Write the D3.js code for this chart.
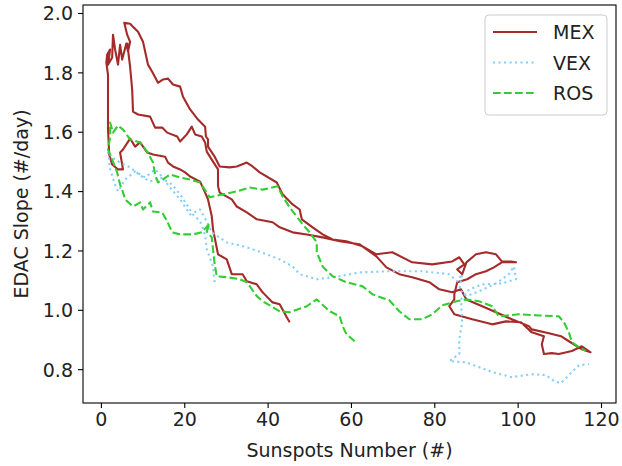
<!DOCTYPE html>
<html>
<head>
<meta charset="utf-8">
<script src="https://cdn.jsdelivr.net/npm/d3@7"></script>
<style>
  body { margin: 0; background: #fff; }
  svg { font-family: "DejaVu Sans", sans-serif; }
</style>
</head>
<body>
<svg id="svg_edac" width="622" height="466"></svg>
<script>
// EDAC slope vs sunspot number, one trajectory per mission

// MEX: sunspots, slope
const mexSunspots = [45.3, 44.6, 42.9, 41.2, 39.3, 38.8, 37.4, 35.0, 34.0, 31.4, 30.2, 28.1, 26.9, 26.6, 25.7, 25.0, 23.8, 21.4, 20.2, 19.0,
  17.3, 16.1, 15.4, 12.5, 11.1, 9.4, 8.2, 7.0, 5.3, 4.6, 5.3, 4.1, 2.7, 2.0, 1.7, 1.7, 1.7, 1.3, 1.5, 2.2,
  1.7, 2.7, 2.9, 3.4, 4.1, 4.6, 5.1, 6.1, 6.5, 7.0, 6.3, 5.6, 7.0, 7.7, 8.9, 10.1, 11.3, 12.3, 13.7, 14.9,
  16.1, 17.3, 19.0, 19.7, 21.4, 23.3, 25.0, 25.2, 25.7, 25.7, 27.3, 28.5, 30.9, 32.6, 35.0, 36.4, 38.1, 42.2, 43.6, 46.0,
  47.7, 48.2, 50.8, 53.2, 55.6, 58.9, 62.8, 66.1, 69.9, 74.7, 79.5, 84.3, 86.0, 87.2, 85.5, 86.7, 87.7, 90.0, 92.4, 94.8,
  96.2, 98.4, 99.6, 96.2, 94.3, 92.4, 90.0, 87.9, 85.5, 84.8, 84.8, 83.6, 84.8, 89.1, 93.9, 97.2, 100.8, 103.4, 106.3, 105.8,
  106.3, 108.2, 109.9, 113.0, 115.4, 117.5, 115.4, 112.3, 110.4, 107.5, 103.4, 102.7, 98.6, 94.8, 91.5, 87.7, 86.4, 84.3, 81.2, 78.8,
  74.7, 71.6, 68.5, 66.1, 62.0, 57.3, 53.2, 49.4, 46.0, 42.9, 41.2, 37.4, 35.0, 32.6, 31.4, 28.5, 28.1, 28.1, 26.6, 25.4,
  25.0, 24.2, 22.6, 21.8, 20.6, 19.0, 18.3, 15.9, 14.7, 13.0, 11.8, 8.9, 7.7, 7.5, 7.0, 6.3];
const mexSlope = [0.958, 0.975, 1.019, 1.025, 1.052, 1.059, 1.086, 1.096, 1.120, 1.120, 1.170, 1.187, 1.271, 1.315, 1.372, 1.395, 1.432, 1.449, 1.463, 1.473,
  1.483, 1.496, 1.516, 1.523, 1.530, 1.564, 1.550, 1.577, 1.540, 1.530, 1.473, 1.473, 1.490, 1.523, 1.607, 1.708, 1.792, 1.833, 1.860, 1.877,
  1.826, 1.850, 1.927, 1.877, 1.826, 1.893, 1.843, 1.897, 1.870, 1.903, 1.927, 1.967, 1.964, 1.954, 1.937, 1.903, 1.826, 1.802, 1.765, 1.776,
  1.779, 1.759, 1.752, 1.718, 1.675, 1.641, 1.617, 1.584, 1.574, 1.550, 1.516, 1.483, 1.480, 1.483, 1.496, 1.483, 1.463, 1.429, 1.389, 1.355,
  1.338, 1.305, 1.278, 1.254, 1.237, 1.231, 1.214, 1.187, 1.194, 1.160, 1.153, 1.163, 1.177, 1.153, 1.136, 1.120, 1.160, 1.187, 1.194, 1.187,
  1.163, 1.163, 1.160, 1.160, 1.143, 1.130, 1.120, 1.103, 1.093, 1.052, 1.035, 1.012, 0.985, 0.968, 0.951, 0.961, 0.958, 0.924, 0.911, 0.884,
  0.851, 0.854, 0.851, 0.861, 0.877, 0.857, 0.867, 0.894, 0.911, 0.921, 0.934, 0.945, 0.968, 0.992, 1.012, 1.035, 1.069, 1.059, 1.069, 1.093,
  1.110, 1.120, 1.143, 1.180, 1.221, 1.231, 1.244, 1.254, 1.261, 1.278, 1.295, 1.305, 1.328, 1.348, 1.372, 1.395, 1.416, 1.473, 1.506, 1.533,
  1.564, 1.584, 1.591, 1.617, 1.591, 1.567, 1.584, 1.597, 1.614, 1.614, 1.651, 1.658, 1.668, 1.742, 1.819, 1.900];

// VEX
const vexSunspots = [27.3, 26.9, 25.4, 25.0, 23.8, 22.1, 20.6, 19.0, 17.1, 14.2, 11.8, 9.4, 7.0, 4.6, 2.7, 1.7, 2.2, 3.4, 4.1, 5.8,
  8.2, 10.6, 13.0, 14.2, 16.6, 19.0, 21.4, 23.8, 25.4, 26.6, 30.2, 35.0, 39.8, 42.9, 46.0, 47.7, 51.8, 57.3, 62.0, 69.2,
  77.1, 83.6, 85.5, 86.7, 86.0, 87.7, 90.7, 94.8, 97.9, 99.1, 99.6, 96.2, 91.5, 88.4, 86.4, 86.7, 86.0, 86.0, 83.6, 87.7,
  90.7, 93.9, 98.6, 103.4, 106.8, 108.7, 110.4, 113.0, 114.7, 117.1];
const vexSlope = [1.093, 1.146, 1.204, 1.254, 1.298, 1.321, 1.355, 1.389, 1.422, 1.446, 1.432, 1.453, 1.480, 1.496, 1.513, 1.533, 1.473, 1.422, 1.399, 1.439,
  1.466, 1.446, 1.473, 1.456, 1.412, 1.372, 1.321, 1.338, 1.298, 1.261, 1.227, 1.211, 1.187, 1.170, 1.146, 1.120, 1.103, 1.113, 1.126, 1.130,
  1.130, 1.120, 1.096, 1.120, 1.069, 1.046, 1.062, 1.089, 1.120, 1.146, 1.103, 1.089, 1.086, 1.069, 1.035, 0.958, 0.901, 0.851, 0.827, 0.823,
  0.807, 0.790, 0.773, 0.783, 0.780, 0.760, 0.753, 0.790, 0.813, 0.817];

// ROS
const rosSunspots = [60.9, 58.9, 58.0, 57.3, 54.9, 51.8, 49.4, 45.3, 42.9, 38.8, 37.4, 35.0, 33.3, 30.2, 27.8, 27.3, 26.9, 26.6, 25.4, 26.1,
  24.2, 22.1, 19.0, 17.1, 15.9, 14.7, 12.5, 11.8, 10.1, 9.4, 7.7, 5.8, 5.1, 4.6, 3.9, 2.7, 1.7, 2.2, 2.2, 2.9,
  4.1, 5.3, 7.0, 9.4, 11.1, 12.5, 13.0, 13.7, 16.6, 19.0, 21.4, 23.8, 25.4, 26.1, 29.3, 32.6, 35.7, 38.8, 42.4, 43.6,
  45.3, 48.4, 50.1, 51.8, 51.8, 53.2, 55.6, 58.9, 62.8, 65.2, 69.2, 71.6, 74.0, 77.1, 79.5, 81.9, 85.3, 87.7, 90.7, 93.9,
  95.5, 100.3, 105.1, 109.9, 111.1, 112.3, 113.0, 114.7, 116.4];
const rosSlope = [0.894, 0.918, 0.945, 0.978, 0.995, 1.035, 1.012, 0.992, 0.995, 1.029, 1.046, 1.093, 1.103, 1.110, 1.113, 1.153, 1.204, 1.244, 1.264, 1.291,
  1.261, 1.254, 1.254, 1.261, 1.298, 1.328, 1.331, 1.362, 1.338, 1.362, 1.348, 1.372, 1.405, 1.422, 1.463, 1.506, 1.540, 1.580, 1.631, 1.597,
  1.621, 1.607, 1.574, 1.564, 1.533, 1.496, 1.456, 1.429, 1.456, 1.446, 1.439, 1.429, 1.395, 1.379, 1.389, 1.399, 1.412, 1.405, 1.416, 1.382,
  1.345, 1.288, 1.261, 1.227, 1.194, 1.146, 1.113, 1.093, 1.079, 1.052, 1.032, 0.995, 0.968, 0.968, 0.985, 1.015, 1.029, 1.035, 1.029, 1.012,
  0.978, 0.985, 0.981, 0.978, 0.958, 0.924, 0.891, 0.874, 0.861];

const seriesNames = ['MEX', 'VEX', 'ROS'];
const xTicks = [0, 20, 40, 60, 80, 100, 120];
const yTicks = [0.8, 1.0, 1.2, 1.4, 1.6, 1.8, 2.0];

const svg = d3.select('#svg_edac');
const plotLeft = 83, plotRight = 616, plotTop = 5, plotBottom = 403;

const xScale = d3.scaleLinear().domain([-4.3, 123.6]).range([plotLeft, plotRight]);
const yScale = d3.scaleLinear().domain([0.686, 2.027]).range([plotBottom, plotTop]);

const series = [
  { name: 'MEX', x: mexSunspots, y: mexSlope, color: '#a52a2a', dash: null },
  { name: 'VEX', x: vexSunspots, y: vexSlope, color: '#87cefa', dash: '2.1,3.4' },
  { name: 'ROS', x: rosSunspots, y: rosSlope, color: '#32cd32', dash: '7.7,3.3' }
];

const line = d3.line()
  .x(d => xScale(d[0]))
  .y(d => yScale(d[1]));

series.forEach(s => {
  const pts = s.x.map((v, i) => [v, s.y[i]]);
  svg.append('path')
    .datum(pts)
    .attr('d', line)
    .attr('fill', 'none')
    .attr('stroke', s.color)
    .attr('stroke-width', 2.1)
    .attr('stroke-linejoin', 'round')
    .attr('stroke-dasharray', s.dash);
});

// axes
const xAxis = d3.axisBottom(xScale).tickValues(xTicks).tickFormat(d => `${d}`).tickSize(5).tickPadding(5);
const yAxis = d3.axisLeft(yScale).tickValues(yTicks).tickFormat(d3.format('.1f')).tickSize(5).tickPadding(5);

const gx = svg.append('g').attr('transform', `translate(0, ${plotBottom})`).call(xAxis);
const gy = svg.append('g').attr('transform', `translate(${plotLeft}, 0)`).call(yAxis);
[gx, gy].forEach(g => {
  g.select('.domain').remove();
  g.selectAll('line').attr('stroke', '#000').attr('stroke-width', 1.1);
  g.selectAll('text').attr('font-size', 19).attr('fill', '#222').attr('font-family', 'DejaVu Sans');
});
gy.selectAll('text').attr('dy', '0.36em');

// frame
svg.append('rect')
  .attr('x', plotLeft).attr('y', plotTop)
  .attr('width', plotRight - plotLeft).attr('height', plotBottom - plotTop)
  .attr('fill', 'none').attr('stroke', '#000').attr('stroke-width', 1.1);

// labels
svg.append('text')
  .attr('x', (plotLeft + plotRight) / 2).attr('y', 457)
  .attr('text-anchor', 'middle').attr('font-size', 19).attr('fill', '#222')
  .text('Sunspots Number (#)');

svg.append('text')
  .attr('transform', `translate(28, ${(plotTop + plotBottom) / 2}) rotate(-90)`)
  .attr('text-anchor', 'middle').attr('font-size', 19).attr('fill', '#222')
  .text('EDAC Slope (#/day)');

// legend
const legend = svg.append('g');
legend.append('rect')
  .attr('x', 485).attr('y', 15).attr('width', 122).attr('height', 100)
  .attr('rx', 4).attr('fill', '#fff').attr('fill-opacity', 0.8)
  .attr('stroke', '#cccccc').attr('stroke-width', 1);

series.forEach((s, i) => {
  const yy = 32 + i * 30.5;
  legend.append('line')
    .attr('x1', 493).attr('x2', 537).attr('y1', yy).attr('y2', yy)
    .attr('stroke', s.color).attr('stroke-width', 2.1)
    .attr('stroke-dasharray', s.dash);
  legend.append('text')
    .attr('x', 553).attr('y', yy + 7)
    .attr('font-size', 19).attr('fill', '#222')
    .text(seriesNames[i]);
});
</script>
</body>
</html>
